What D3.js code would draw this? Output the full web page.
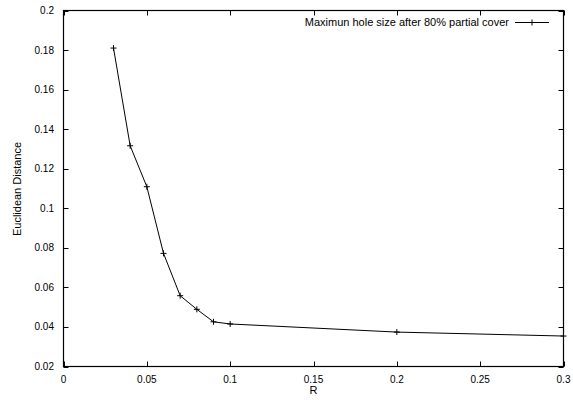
<!DOCTYPE html>
<html><head><meta charset="utf-8">
<script src="https://cdn.jsdelivr.net/npm/d3@7"></script>
<style>body{margin:0;background:#fff}svg{display:block}text{font-family:"Liberation Sans",Arial,Helvetica,sans-serif;font-size:10px;fill:#000}.lab{font-size:11px}</style>
</head><body>
<svg id="c" width="573" height="404"></svg>
<script>
const rValues = [0.03, 0.04, 0.05, 0.06, 0.07, 0.08, 0.09, 0.1, 0.2, 0.3];
const distances = [0.181, 0.1316, 0.1109, 0.0772, 0.0558, 0.0489, 0.0426, 0.0415, 0.0374, 0.0354];
const xTicks = [0, 0.05, 0.1, 0.15, 0.2, 0.25, 0.3];
const yTicks = [0.02, 0.04, 0.06, 0.08, 0.1, 0.12, 0.14, 0.16, 0.18, 0.2];
const seriesName = "Maximun hole size after 80% partial cover";

const svg = d3.select("#c");
const L = 63.5, R = 563.5, T = 10.5, B = 366.5;
const x = d3.scaleLinear().domain([0, 0.3]).range([L, R]);
const y = d3.scaleLinear().domain([0.02, 0.2]).range([B, T]);
const tl = 5;

const g = svg.append("g");
xTicks.forEach(v => {
  const px = Math.round(x(v)) + 0.5;
  g.append("line").attr("x1", px).attr("x2", px).attr("y1", B).attr("y2", B - tl).attr("stroke", "#000");
  g.append("line").attr("x1", px).attr("x2", px).attr("y1", T).attr("y2", T + tl).attr("stroke", "#000");
  g.append("text").attr("x", x(v)).attr("y", 382.5).attr("text-anchor", "middle").text(d3.format("")(v));
});
yTicks.forEach(v => {
  const py = Math.round(y(v)) + 0.5;
  g.append("line").attr("x1", L).attr("x2", L + tl).attr("y1", py).attr("y2", py).attr("stroke", "#000");
  g.append("line").attr("x1", R).attr("x2", R - tl).attr("y1", py).attr("y2", py).attr("stroke", "#000");
  g.append("text").attr("x", 54).attr("y", y(v) + 3.5).attr("text-anchor", "end").text(d3.format("")(v));
});
g.append("rect").attr("x", L).attr("y", T).attr("width", R - L).attr("height", B - T)
  .attr("fill", "none").attr("stroke", "#000").attr("stroke-width", 1.2);

svg.append("text").attr("class", "lab").attr("x", (L + R) / 2).attr("y", 394).attr("text-anchor", "middle").text("R");
svg.append("text").attr("class", "lab").attr("transform", "translate(21,189) rotate(-90)").attr("text-anchor", "middle").text("Euclidean Distance");

const pts = rValues.map((r, i) => [r, distances[i]]);
const line = d3.line().x(d => x(d[0])).y(d => y(d[1]));
svg.append("path").datum(pts).attr("d", line).attr("fill", "none").attr("stroke", "#000").attr("stroke-width", 1);
const plus = (cx, cy) => {
  svg.append("line").attr("x1", cx - 3).attr("x2", cx + 3).attr("y1", cy).attr("y2", cy).attr("stroke", "#000");
  svg.append("line").attr("x1", cx).attr("x2", cx).attr("y1", cy - 3).attr("y2", cy + 3).attr("stroke", "#000");
};
pts.forEach(d => plus(x(d[0]), y(d[1])));

svg.append("text").attr("class", "lab").attr("x", 509).attr("y", 26).attr("text-anchor", "end").text(seriesName);
svg.append("line").attr("x1", 515).attr("x2", 549).attr("y1", 22.5).attr("y2", 22.5).attr("stroke", "#000");
plus(532, 22.5);
</script>
</body></html>
